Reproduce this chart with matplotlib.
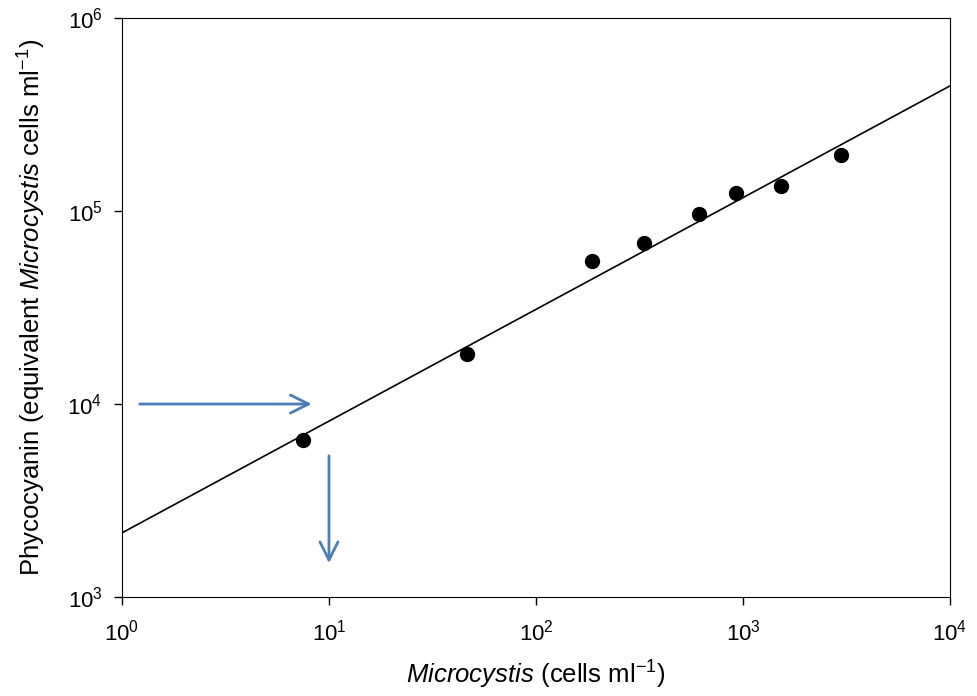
import matplotlib
matplotlib.use("Agg")
import matplotlib.pyplot as plt
import numpy as np

plt.rcParams["font.family"] = ["Liberation Sans", "DejaVu Sans"]
plt.rcParams["mathtext.fontset"] = "custom"
plt.rcParams["mathtext.rm"] = "Liberation Sans"
plt.rcParams["mathtext.it"] = "Liberation Sans:italic"

# measured points
cells = [7.5, 46.4, 186, 332, 613, 925, 1527, 2974]
phyco = [6500, 18150, 55000, 68200, 96400, 124000, 135000, 195000]

# fitted regression line y = a * x^b
fit_a = 2150
fit_b = 0.579
fit_x = [1, 1e4]

# blue arrows (start, end)
arrow_h = [(1.18, 1e4), (8.5, 1e4)]
arrow_v = [(10, 5570), (10, 1450)]
arrow_color = "#4A7EBB"

fig = plt.figure(figsize=(9.78, 6.96), dpi=100)
ax = fig.add_axes([0.1247, 0.1422, 0.8467, 0.8319])

fx = np.array(fit_x)
ax.plot(fx, fit_a * fx ** fit_b, color="black", lw=1.2)
ax.plot(cells, phyco, "o", color="black", ms=10)

for (s, e) in [arrow_h, arrow_v]:
    ax.annotate("", xy=e, xytext=s,
                arrowprops=dict(arrowstyle="->,head_length=1.3,head_width=0.65",
                                color=arrow_color, lw=2))

ax.set_xscale("log")
ax.set_yscale("log")
ax.set_xlim(1, 1e4)
ax.set_ylim(1e3, 1e6)
ax.minorticks_off()
ax.set_xticks([1, 10, 100, 1000, 10000])
ax.set_xticklabels([f"10$^{i}$" for i in range(5)])
ax.set_yticks([1e3, 1e4, 1e5, 1e6])
ax.set_yticklabels([f"10$^{i}$" for i in range(3, 7)])
ax.tick_params(direction="out", length=6, width=1, labelsize=16, pad=8)
ax.tick_params(axis="x", pad=10)

ax.set_xlabel(r"$\it{Microcystis}$ (cells ml$^{-1}$)", fontsize=18.5, labelpad=10)
ax.set_ylabel(r"Phycocyanin (equivalent $\it{Microcystis}$ cells ml$^{-1}$)", fontsize=18.5, labelpad=14)

fig.savefig("out.png", dpi=100)
